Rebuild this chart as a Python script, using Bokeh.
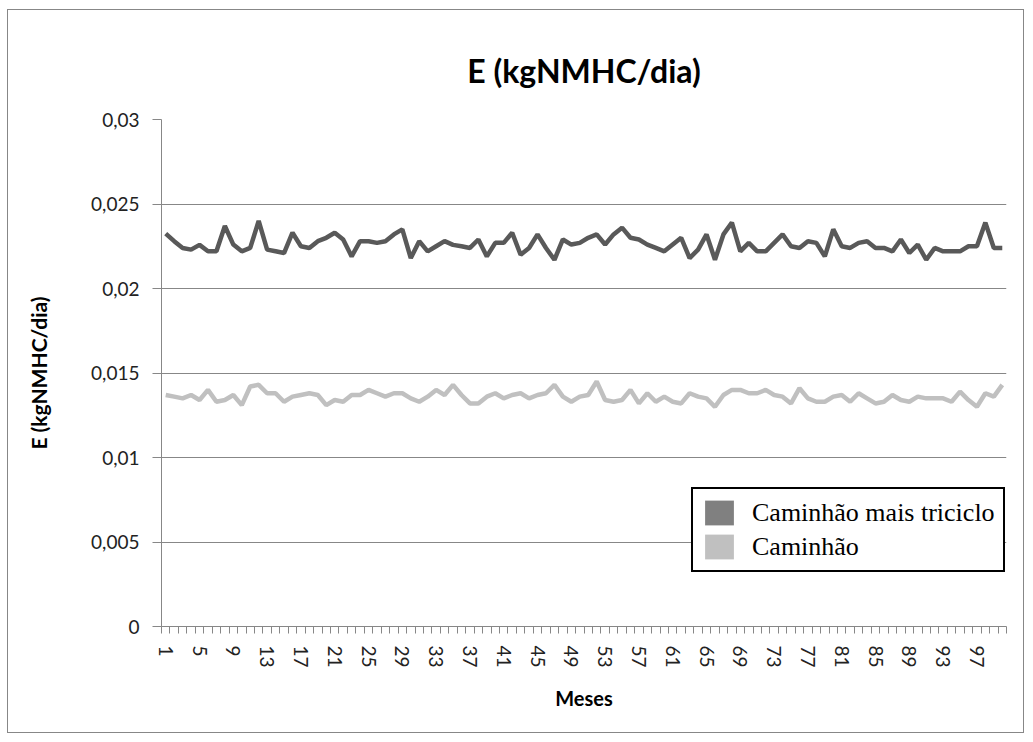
from bokeh.plotting import figure
from bokeh.models import FixedTicker, Legend, LegendItem, Range1d
from bokeh.embed import file_html
from bokeh.resources import INLINE

# ---- data ----
meses = list(range(1, 101))

caminhao_mais_triciclo = [
    0.02325, 0.0228, 0.0224, 0.0223, 0.02258, 0.0222, 0.0222, 0.0237, 0.0226, 0.0222,
    0.0224, 0.0240, 0.0223, 0.0222, 0.0221, 0.0233, 0.0225, 0.0224, 0.0228, 0.0230,
    0.0233, 0.0229, 0.0219, 0.0228, 0.0228, 0.0227, 0.0228, 0.0232, 0.0235, 0.0218,
    0.0228, 0.0222, 0.0225, 0.0228, 0.02258, 0.0225, 0.0224, 0.0229, 0.0219, 0.0227,
    0.0227, 0.0233, 0.0220, 0.0224, 0.0232, 0.0224, 0.0217, 0.0229, 0.0226, 0.0227,
    0.0230, 0.0232, 0.0226, 0.0232, 0.0236, 0.0230, 0.0229, 0.0226, 0.0224, 0.0222,
    0.0226, 0.0230, 0.0218, 0.0223, 0.0232, 0.0217, 0.0232, 0.0239, 0.0222, 0.0227,
    0.0222, 0.0222, 0.0227, 0.0232, 0.0225, 0.0224, 0.0228, 0.0227, 0.0219, 0.0235,
    0.0225, 0.0224, 0.0227, 0.0228, 0.0224, 0.0224, 0.0222, 0.0229, 0.0221, 0.0226,
    0.0217, 0.0224, 0.0222, 0.0222, 0.0222, 0.0225, 0.0225, 0.0239, 0.0224, 0.0224,
]

caminhao = [
    0.0137, 0.0136, 0.0135, 0.0137, 0.0134, 0.0140, 0.0133, 0.0134, 0.0137, 0.0131,
    0.0142, 0.0143, 0.0138, 0.0138, 0.0133, 0.0136, 0.0137, 0.0138, 0.0137, 0.0131,
    0.0134, 0.0133, 0.0137, 0.0137, 0.0140, 0.0138, 0.0136, 0.0138, 0.0138, 0.0135,
    0.0133, 0.0136, 0.0140, 0.0137, 0.0143, 0.0137, 0.0132, 0.0132, 0.0136, 0.0138,
    0.0135, 0.0137, 0.0138, 0.0135, 0.0137, 0.0138, 0.0143, 0.0136, 0.0133, 0.0136,
    0.0137, 0.0145, 0.0134, 0.0133, 0.0134, 0.0140, 0.0132, 0.0138, 0.0133, 0.0136,
    0.0133, 0.0132, 0.0138, 0.0136, 0.0135, 0.0130, 0.0137, 0.0140, 0.0140, 0.0138,
    0.0138, 0.0140, 0.0137, 0.0136, 0.0132, 0.0141, 0.0135, 0.0133, 0.0133, 0.0136,
    0.0137, 0.0133, 0.0138, 0.0135, 0.0132, 0.0133, 0.0137, 0.0134, 0.0133, 0.0136,
    0.0135, 0.0135, 0.0135, 0.0133, 0.0139, 0.0134, 0.0130, 0.0138, 0.0136, 0.0143,
]

y_ticks = [0, 0.005, 0.01, 0.015, 0.02, 0.025, 0.03]
y_tick_labels = ["0", "0,005", "0,01", "0,015", "0,02", "0,025", "0,03"]
x_tick_labels = list(range(1, 101, 4))
x_boundaries = [m - 0.5 for m in meses] + [meses[-1] + 0.5]

serie_labels = ["Caminhão mais triciclo", "Caminhão"]
line_colors = ["#595959", "#c0c0c0"]
legend_colors = ["#808080", "#c0c0c0"]

FONT = "Lato"
GREY = "#878787"

p = figure(
    width=1017, height=724,
    output_backend="svg", toolbar_location=None,
    x_range=Range1d(0.5, 100.5), y_range=Range1d(0, 0.03),
    min_border_left=153, min_border_right=19, min_border_top=109, min_border_bottom=108,
    styles={"border": "1px solid #878787"},
    margin=(9, 0, 0, 7),
)
p.outline_line_color = None
p.background_fill_color = "white"
p.border_fill_color = "white"

# title
p.title.text = "E (kgNMHC/dia)"
p.title.align = "center"
p.title.text_font = FONT
p.title.text_font_style = "bold"
p.title.text_font_size = "32px"
p.title.text_color = "black"
p.title.standoff = 59

# y axis
ya = p.yaxis[0]
ya.ticker = FixedTicker(ticks=y_ticks)
ya.major_label_overrides = {t: l for t, l in zip(y_ticks, y_tick_labels)}
ya.axis_label = "E (kgNMHC/dia)"
ya.axis_label_text_font = FONT
ya.axis_label_text_font_style = "bold"
ya.axis_label_text_font_size = "21px"
ya.axis_label_text_color = "black"
ya.axis_label_standoff = 37
ya.major_label_text_font = FONT
ya.major_label_text_font_size = "19px"
ya.major_label_text_color = "#222222"
ya.major_label_standoff = 13
ya.major_tick_out = 9
ya.major_tick_in = 0
ya.major_tick_line_color = GREY
ya.minor_tick_line_color = None
ya.axis_line_color = GREY

# x axis
xa = p.xaxis[0]
xa.ticker = FixedTicker(ticks=x_tick_labels, minor_ticks=x_boundaries)
xa.axis_label = "Meses"
xa.axis_label_text_font = FONT
xa.axis_label_text_font_style = "bold"
xa.axis_label_text_font_size = "20px"
xa.axis_label_text_color = "black"
xa.axis_label_standoff = 15
xa.major_label_orientation = "vertical"
xa.major_label_text_font = FONT
xa.major_label_text_font_size = "19px"
xa.major_label_text_color = "#222222"
xa.major_label_standoff = 12
xa.major_tick_line_color = None
xa.major_tick_out = 0
xa.major_tick_in = 0
xa.minor_tick_line_color = GREY
xa.minor_tick_out = 7
xa.minor_tick_in = 0
xa.axis_line_color = GREY

p.xgrid.visible = False
p.ygrid.grid_line_color = GREY
p.ygrid.grid_line_width = 1

# series
p.line(meses, caminhao_mais_triciclo, line_color=line_colors[0], line_width=4.5)
p.line(meses, caminhao, line_color=line_colors[1], line_width=4.5)

# legend swatches: zero-area quads (nothing visible on the plot), used only for the legend
proxies = []
for c in legend_colors:
    proxies.append(p.quad(left=[meses[0]], right=[meses[0]], top=[0], bottom=[0],
                          fill_color=c, line_color=None))

legend = Legend(
    items=[LegendItem(label=l, renderers=[r]) for l, r in zip(serie_labels, proxies)],
    location=(530, 54),
    label_text_font="Liberation Serif",
    label_text_font_size="26px",
    label_text_color="black",
    border_line_color="black",
    border_line_width=2,
    border_line_alpha=1,
    background_fill_color="white",
    background_fill_alpha=1,
    glyph_width=36,
    glyph_height=31,
    spacing=3,
    padding=8,
    label_standoff=15,
    margin=0,
)
p.add_layout(legend)

open("out.html", "w").write(file_html(p, INLINE))
